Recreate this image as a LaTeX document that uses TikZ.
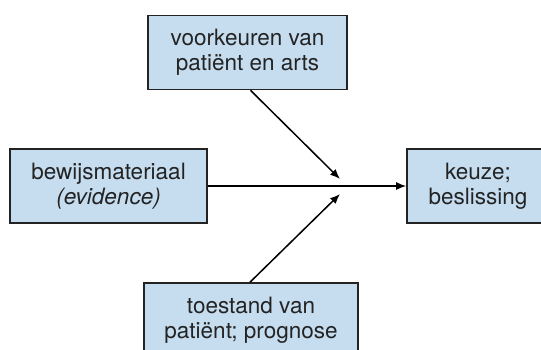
\documentclass[tikz,border=0pt]{standalone}
\usepackage{fontspec}
\setmainfont{TeX Gyre Heros}
\usetikzlibrary{arrows.meta}
\definecolor{boxfill}{HTML}{C6DDF0}
\definecolor{boxline}{HTML}{232323}
\begin{document}
\begin{tikzpicture}[
      x=1pt,y=-1pt,
      >={Latex[length=10pt,width=8pt]},
      box/.style={
        draw=boxline,fill=boxfill,line width=1.6pt,align=center,
        minimum height=74pt,inner sep=0pt,text=boxline,
        font=\fontsize{22.5}{25}\selectfont
      },
    ]
    \clip (0,0) rectangle (541,349);
    \node[box,minimum width=199pt] (pref) at (247.5,52.5) {voorkeuren van\\patiënt en arts};
    \node[box,minimum width=197pt] (evid) at (108.5,186) {bewijsmateriaal\\\textit{(evidence)}};
    \node[box,minimum width=142pt] (choice) at (478,186) {keuze;\\beslissing};
    \node[box,minimum width=214pt] (state) at (251,320) {toestand van\\patiënt; prognose};
    \coordinate (tipa) at (340,179);
    \coordinate (tipb) at (340,194);
    \draw[line width=1.5pt,->] (evid) -- (choice);
    \draw[line width=1.5pt,->] ([xshift=3pt]pref.south) -- (tipa);
    \draw[line width=1.5pt,->] ([xshift=-1pt]state.north) -- (tipb);
  \end{tikzpicture}
\end{document}
